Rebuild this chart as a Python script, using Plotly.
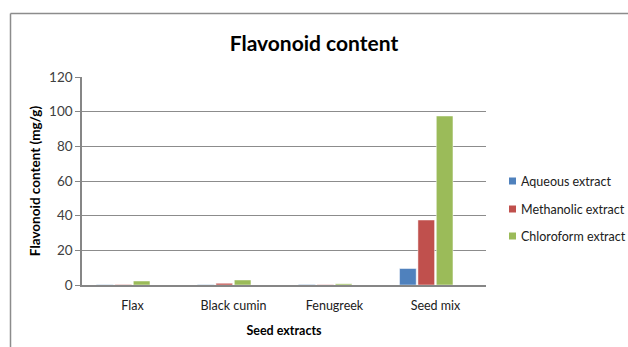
import plotly.graph_objects as go

# Flavonoid content (mg/g) per seed extract and solvent
categories = ["Flax", "Black cumin", "Fenugreek", "Seed mix"]
aqueous = [0.2, 0.2, 0.3, 9.5]
methanolic = [0.3, 1.0, 0.2, 37.5]
chloroform = [2.3, 2.9, 0.7, 97.5]

series_names = ["Aqueous extract", "Methanolic extract", "Chloroform extract"]
series_values = [aqueous, methanolic, chloroform]
series_colors = ["#4F81BD", "#C0504D", "#9BBB59"]

W, H = 628, 347
ML, MR, MT, MB = 82, 142, 77, 62
pw = W - ML - MR
ph = H - MT - MB

# bars sit in the first three of four slots of each category
bar_w = 0.165
bar_step = 0.182
first_offset = -0.356

fig = go.Figure()
for i, (name, vals, color) in enumerate(zip(series_names, series_values, series_colors)):
    fig.add_trace(go.Bar(x=categories, y=vals, name=name, marker_color=color,
                         marker_line=dict(width=0.6, color="rgba(255,255,255,0.8)"),
                         width=bar_w, offset=first_offset + i * bar_step,
                         showlegend=False))

def px_x(x):
    return (x - ML) / pw

def px_y(y):
    return (H - MB - y) / ph

# outer chart frame (top and left edges)
fig.add_shape(type="line", xref="paper", yref="paper",
              x0=px_x(10.5), x1=px_x(W + 5), y0=px_y(13.5), y1=px_y(13.5),
              line=dict(color="#8c8c8c", width=1.5))
fig.add_shape(type="line", xref="paper", yref="paper",
              x0=px_x(10.5), x1=px_x(10.5), y0=px_y(13.5), y1=px_y(H + 5),
              line=dict(color="#8c8c8c", width=1.5))

font_family = "Lato, Open Sans, sans-serif"

# legend: small square keys with labels
legend_rows = [181, 209, 236]
for name, color, yc in zip(series_names, series_colors, legend_rows):
    fig.add_shape(type="rect", xref="paper", yref="paper",
                  x0=px_x(509), x1=px_x(516), y0=px_y(yc - 3.5), y1=px_y(yc + 3.5),
                  fillcolor=color, line=dict(width=0))
    fig.add_annotation(text=name, xref="paper", yref="paper", x=px_x(518.5), y=px_y(yc),
                       xanchor="left", yanchor="middle", showarrow=False,
                       font=dict(size=12.5, color="#202020", family=font_family))

fig.update_layout(
    width=W, height=H,
    margin=dict(l=ML, r=MR, t=MT, b=MB, autoexpand=False),
    paper_bgcolor="white", plot_bgcolor="white",
    barmode="overlay", showlegend=False,
    font=dict(family=font_family, size=12, color="#404040"),
    title=dict(text="<b>Flavonoid content</b>", x=0.5, xanchor="center", xref="container",
               y=1 - 44 / H, yanchor="middle",
               font=dict(size=21, color="black", family=font_family)),
    xaxis=dict(showline=True, linecolor="#868686", linewidth=1.5, ticks="",
               ticklabelstandoff=8,
               title=dict(text="<b>Seed extracts</b>", standoff=14,
                          font=dict(size=12.5, color="black")),
               tickfont=dict(size=12.5, color="#202020")),
    yaxis=dict(range=[0, 120], dtick=20, showgrid=True, gridcolor="#8c8c8c", gridwidth=1,
               showline=True, linecolor="#868686", linewidth=1.5, ticks="outside",
               ticklen=5, tickcolor="#868686", zeroline=False,
               title=dict(text="<b>Flavonoid content (mg/g)</b>", standoff=5,
                          font=dict(size=13.5, color="black")),
               tickfont=dict(size=13.5, color="#404040")),
)

fig.write_html("out.html")
